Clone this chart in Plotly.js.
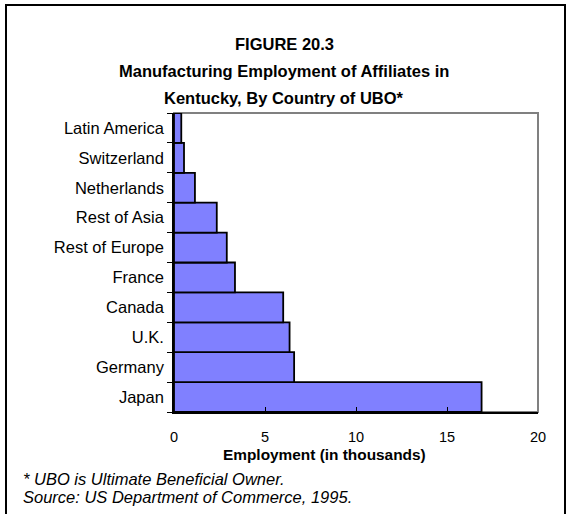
<!DOCTYPE html>
<html>
<head>
<meta charset="utf-8">
<script src="https://cdn.plot.ly/plotly-3.0.1.min.js"></script>
<style>
html,body{margin:0;padding:0;background:#fff;}
#chart{width:569px;height:514px;}
</style>
</head>
<body>
<div id="chart"></div>
<script>
// Data (in thousands of employees), bottom-to-top order as drawn
const categories = ["Japan", "Germany", "U.K.", "Canada", "France", "Rest of Europe", "Rest of Asia", "Netherlands", "Switzerland", "Latin America"];
const employment = [16.9, 6.6, 6.35, 6.0, 3.35, 2.9, 2.35, 1.15, 0.55, 0.4];
const xTickValues = [0, 5, 10, 15, 20];

const W = 569, H = 514;
const mL = 174, mR = 31, mT = 113, mB = 102;
const pw = W - mL - mR, ph = H - mT - mB;
const px = x => (x - mL) / pw;
const py = y => (H - mB - y) / ph;

const font = "Arial, 'Liberation Sans', sans-serif";

const trace = {
  type: "bar",
  orientation: "h",
  y: categories,
  x: employment,
  marker: { color: "#8080ff", line: { color: "#000000", width: 1.8 } },
  hoverinfo: "none"
};

const layout = {
  width: W, height: H,
  margin: { l: mL, r: mR, t: mT, b: mB, pad: 0 },
  paper_bgcolor: "#ffffff",
  plot_bgcolor: "#ffffff",
  bargap: 0,
  showlegend: false,
  font: { family: font, color: "#000", size: 14 },
  xaxis: {
    range: [0, 20],
    tickvals: xTickValues,
    ticktext: xTickValues.map(String),
    ticks: "inside", ticklen: 5, tickwidth: 1, tickcolor: "#000",
    showline: true, linecolor: "#000", linewidth: 1.8,
    showgrid: false, zeroline: false,
    tickfont: { family: font, size: 14.5, color: "#000" },
    ticklabelstandoff: 11,
    fixedrange: true
  },
  yaxis: {
    type: "category",
    categoryorder: "array",
    categoryarray: categories,
    ticks: "outside", ticklen: 5, tickwidth: 1, tickcolor: "#000",
    tickson: "boundaries",
    showline: true, linecolor: "#000", linewidth: 1.8,
    showgrid: false, zeroline: false,
    tickfont: { family: font, size: 16.5, color: "#000" },
    ticklabelstandoff: 5,
    fixedrange: true
  },
  shapes: [
    // gray plot frame (top and right)
    { type: "rect", xref: "paper", yref: "paper", x0: 0, x1: 1, y0: 0, y1: 1,
      line: { color: "#808080", width: 2 }, layer: "below" },
    // outer black border
    { type: "rect", xref: "paper", yref: "paper", x0: px(6), x1: px(565), y0: py(540), y1: py(5),
      line: { color: "#000", width: 2 }, layer: "above" }
  ],
  annotations: [
    { xref: "paper", yref: "paper", x: px(284), y: py(44), xanchor: "center", yanchor: "middle",
      text: "<b>FIGURE 20.3</b>", showarrow: false, font: { family: font, size: 16.5, color: "#000" } },
    { xref: "paper", yref: "paper", x: px(284), y: py(71), xanchor: "center", yanchor: "middle",
      text: "<b>Manufacturing Employment of Affiliates in</b>", showarrow: false, font: { family: font, size: 16.5, color: "#000" } },
    { xref: "paper", yref: "paper", x: px(284), y: py(98), xanchor: "center", yanchor: "middle",
      text: "<b>Kentucky, By Country of UBO*</b>", showarrow: false, font: { family: font, size: 16.5, color: "#000" } },
    { xref: "paper", yref: "paper", x: px(324.5), y: py(455), xanchor: "center", yanchor: "middle",
      text: "<b>Employment (in thousands)</b>", showarrow: false, font: { family: font, size: 15.4, color: "#000" } },
    { xref: "paper", yref: "paper", x: px(21), y: py(479), xanchor: "left", yanchor: "middle",
      text: "<i>* UBO is Ultimate Beneficial Owner.</i>", showarrow: false, font: { family: font, size: 16.5, color: "#000" } },
    { xref: "paper", yref: "paper", x: px(21), y: py(497), xanchor: "left", yanchor: "middle",
      text: "<i>Source: US Department of Commerce, 1995.</i>", showarrow: false, font: { family: font, size: 16.5, color: "#000" } }
  ]
};

Plotly.newPlot("chart", [trace], layout, { displayModeBar: false, staticPlot: true });
</script>
</body>
</html>
